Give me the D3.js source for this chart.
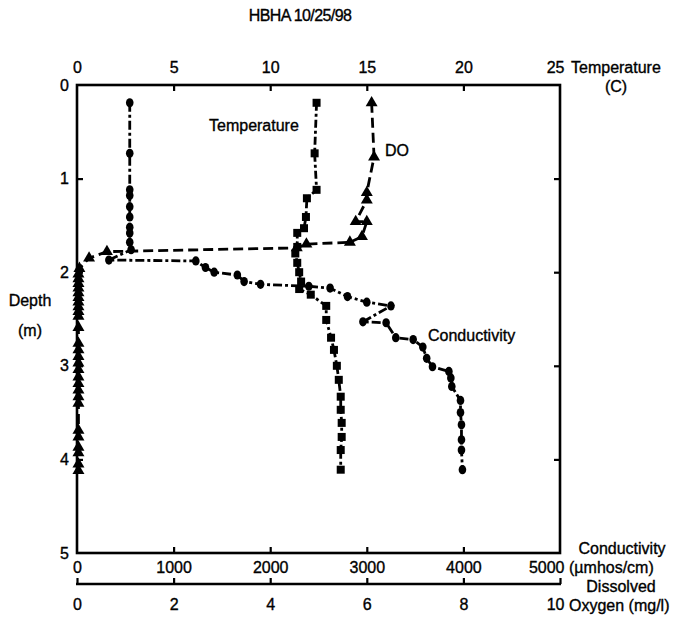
<!DOCTYPE html>
<html>
<head>
<meta charset="utf-8">
<script src="https://cdn.jsdelivr.net/npm/d3@7"></script>
<style>
  body { margin: 0; background: #fff; }
  svg text { font-family: "Liberation Sans", Arial, Helvetica, sans-serif; fill: #000; stroke: #000; stroke-width: 0.35px; }
</style>
</head>
<body>
<svg id="chart" width="676" height="631"></svg>
<script>
// Tick values for each axis
const tempTicks  = [0, 5, 10, 15, 20, 25];
const condTicks  = [0, 1000, 2000, 3000, 4000, 5000];
const doTicks    = [0, 2, 4, 6, 8, 10];
const depthTicks = [0, 1, 2, 3, 4, 5];

// Temperature profile (C) vs depth (m)
const tempDepth = [0.19, 0.73, 1.12, 1.21, 1.41, 1.53, 1.58, 1.73, 1.80, 1.90, 2.00, 2.10, 2.18, 2.24, 2.36, 2.51, 2.70, 2.83, 3.00, 3.15, 3.33, 3.47, 3.61, 3.76, 3.90, 4.11];
const tempC     = [12.4, 12.3, 12.4, 11.9, 11.85, 11.75, 11.4, 11.4, 11.3, 11.4, 11.5, 11.6, 11.5, 12.1, 12.9, 12.9, 13.15, 13.3, 13.45, 13.55, 13.65, 13.65, 13.7, 13.7, 13.65, 13.65];

// Dissolved oxygen profile (mg/l) vs depth (m)
const doDepth = [0.19, 0.77, 1.15, 1.23, 1.46, 1.46, 1.62, 1.68, 1.70, 1.74, 1.78, 1.85, 1.96, 2.02, 2.07, 2.12, 2.17, 2.22, 2.27, 2.32, 2.37, 2.42, 2.47, 2.59, 2.76, 2.83, 2.90, 2.97, 3.04, 3.12, 3.19, 3.26, 3.33, 3.40, 3.69, 3.76, 3.87, 3.93, 4.05, 4.12];
const doMgL   = [6.1, 6.15, 6.0, 6.0, 5.77, 6.0, 5.9, 5.65, 4.75, 4.55, 0.62, 0.25, 0.05, 0.03, 0.03, 0.03, 0.03, 0.03, 0.03, 0.03, 0.03, 0.03, 0.03, 0.03, 0.03, 0.03, 0.03, 0.03, 0.03, 0.03, 0.03, 0.03, 0.03, 0.03, 0.03, 0.03, 0.03, 0.03, 0.03, 0.03];

// Conductivity profile (umhos/cm) vs depth (m)
const condDepth = [0.19, 0.73, 1.12, 1.18, 1.30, 1.41, 1.52, 1.58, 1.68, 1.76, 1.87, 1.88, 1.95, 2.00, 2.03, 2.10, 2.13, 2.15, 2.17, 2.26, 2.32, 2.36, 2.53, 2.54, 2.70, 2.72, 2.80, 2.92, 3.01, 3.06, 3.13, 3.22, 3.37, 3.50, 3.63, 3.79, 3.90, 4.11];
const condValue = [546, 546, 546, 546, 546, 546, 546, 546, 546, 560, 330, 1230, 1330, 1420, 1660, 1730, 1900, 2400, 2620, 2800, 3000, 3250, 2960, 3200, 3300, 3480, 3580, 3620, 3680, 3850, 3870, 3880, 3970, 3970, 3980, 3980, 3980, 3990];

const svg = d3.select("#chart");
const L = 77, R = 560, T = 85, B = 553;

const yDepth = d3.scaleLinear().domain([0, 5]).range([T, B]);
const xTemp  = d3.scaleLinear().domain([0, 25]).range([L, R]);
const xCond  = d3.scaleLinear().domain([0, 5000]).range([L, R]);
const xDO    = d3.scaleLinear().domain([0, 10]).range([L, R]);

const FS = 16;
const fmt = d3.format("d");

// Title
svg.append("text").attr("x", 300).attr("y", 21).attr("text-anchor", "middle")
  .style("font-size", "16px").style("letter-spacing", "-0.6px").text("HBHA 10/25/98");

function styleAxis(g, lastShift) {
  g.select(".domain").remove();
  g.selectAll(".tick line").attr("stroke", "#000").attr("stroke-width", 2.2);
  g.selectAll(".tick text").style("font-size", FS + "px").attr("fill", "#000")
    .style("font-family", "'Liberation Sans', Arial, sans-serif");
  if (lastShift) {
    const texts = g.selectAll(".tick text").nodes();
    d3.select(texts[texts.length - 1]).attr("text-anchor", "end").attr("x", 4);
  }
}

// Top temperature axis (ticks point into the plot)
const gTop = svg.append("g").attr("transform", `translate(0,${T})`)
  .call(d3.axisTop(xTemp).tickValues(tempTicks).tickFormat(fmt).tickSizeInner(-6).tickSizeOuter(0).tickPadding(12));
styleAxis(gTop, true);
gTop.selectAll(".tick").filter(d => d === 0 || d === 25).select("line").remove();

// Bottom conductivity axis
const gBot = svg.append("g").attr("transform", `translate(0,${B})`)
  .call(d3.axisBottom(xCond).tickValues(condTicks).tickFormat(fmt).tickSizeInner(-6).tickSizeOuter(0).tickPadding(9));
styleAxis(gBot, true);
gBot.selectAll(".tick").filter(d => d === 0 || d === 5000).select("line").remove();

// Left depth axis
const gLeft = svg.append("g").attr("transform", `translate(${L},0)`)
  .call(d3.axisLeft(yDepth).tickValues(depthTicks).tickFormat(fmt).tickSizeInner(-6).tickSizeOuter(0).tickPadding(8));
styleAxis(gLeft, false);
gLeft.selectAll(".tick").filter(d => d === 0 || d === 5).select("line").remove();

// Right depth axis: ticks only
const gRight = svg.append("g").attr("transform", `translate(${R},0)`)
  .call(d3.axisRight(yDepth).tickValues([1, 2, 3, 4]).tickSizeInner(-6).tickSizeOuter(0).tickFormat(""));
styleAxis(gRight, false);

// Plot frame
svg.append("rect").attr("x", L).attr("y", T).attr("width", R - L).attr("height", B - T)
  .attr("fill", "none").attr("stroke", "#000").attr("stroke-width", 2.6);

// Separate dissolved oxygen axis below the frame
const DOY = 584;
const gDO = svg.append("g").attr("transform", `translate(0,${DOY})`)
  .call(d3.axisBottom(xDO).tickValues(doTicks).tickFormat(fmt).tickSizeInner(-6).tickSizeOuter(0).tickPadding(15));
styleAxis(gDO, true);
gDO.insert("line", ":first-child").attr("x1", L - 1).attr("x2", R + 1).attr("y1", 0).attr("y2", 0)
  .attr("stroke", "#000").attr("stroke-width", 2.4);

// Axis titles
const axisText = (x, y, anchor, s) => svg.append("text").attr("x", x).attr("y", y)
  .attr("text-anchor", anchor).style("font-size", FS + "px").text(s);
axisText(571, 73, "start", "Temperature");
axisText(616, 92, "middle", "(C)");
axisText(622, 554, "middle", "Conductivity");
axisText(569, 573, "start", "(\u00b5mhos/cm)");
axisText(621, 592, "middle", "Dissolved");
axisText(569, 611, "start", "Oxygen (mg/l)");
axisText(30, 306, "middle", "Depth");
axisText(30, 336, "middle", "(m)");

// Series records
const temp = tempDepth.map((d, i) => ({ depth: d, v: tempC[i] }));
const dox  = doDepth.map((d, i) => ({ depth: d, v: doMgL[i] }));
const cond = condDepth.map((d, i) => ({ depth: d, v: condValue[i] }));

const plot = svg.append("g");

function drawLine(data, xs, dash) {
  plot.append("path").datum(data)
    .attr("fill", "none").attr("stroke", "#000").attr("stroke-width", 2.8)
    .attr("stroke-dasharray", dash)
    .attr("d", d3.line().x(d => xs(d.v)).y(d => yDepth(d.depth)));
}

drawLine(cond, xCond, "9,3,3,3");
drawLine(temp, xTemp, "8,3,3,3");
drawLine(dox, xDO, "10,5");

// Markers: circles for conductivity, squares for temperature, triangles for DO
plot.selectAll(".cond-pt").data(cond).join("ellipse")
  .attr("cx", d => xCond(d.v)).attr("cy", d => yDepth(d.depth))
  .attr("rx", 3.8).attr("ry", 4.6).attr("fill", "#000");

plot.selectAll(".temp-pt").data(temp).join("rect")
  .attr("x", d => xTemp(d.v) - 4).attr("y", d => yDepth(d.depth) - 4)
  .attr("width", 8).attr("height", 8).attr("fill", "#000");

plot.selectAll(".do-pt").data(dox).join("path")
  .attr("transform", d => `translate(${xDO(d.v)},${yDepth(d.depth)})`)
  .attr("d", d3.symbol(d3.symbolTriangle, 62)).attr("fill", "#000");

// In-plot series labels
axisText(209, 131, "start", "Temperature");
axisText(385, 156, "start", "DO");
axisText(428, 341, "start", "Conductivity");
</script>
</body>
</html>
